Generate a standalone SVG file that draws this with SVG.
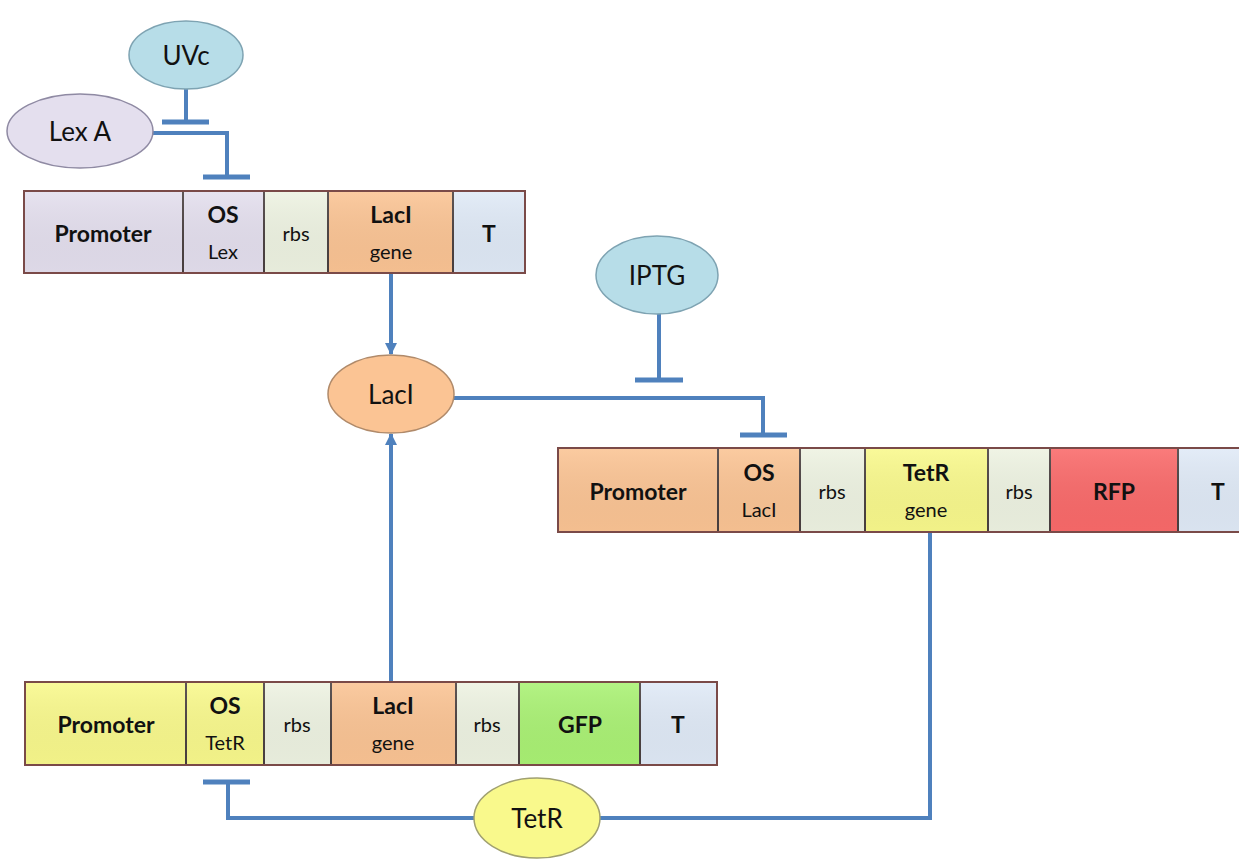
<svg xmlns="http://www.w3.org/2000/svg" width="1239" height="859" viewBox="0 0 1239 859">
  <style>
    .cell { stroke: #4a4040; stroke-width: 2; }
    .strip { fill: none; stroke: #7a4a48; stroke-width: 2; }
    .b { font-family: Lato, "Liberation Sans", sans-serif; font-weight: bold; font-size: 23px; fill: #111; text-anchor: middle; dominant-baseline: central; }
    .r { font-family: Lato, "Liberation Sans", sans-serif; font-size: 20px; fill: #111; text-anchor: middle; dominant-baseline: central; }
    .el { font-family: Lato, "Liberation Sans", sans-serif; font-size: 26px; fill: #111; text-anchor: middle; dominant-baseline: central; }
    .link { fill: none; stroke: #4f81bd; stroke-width: 4; }
    .bar { stroke: #4f81bd; stroke-width: 5; }
    .lav { fill: #e4dfee; }
    .rbs { fill: #eef3e2; }
    .lac { fill: #fbc494; }
    .term { fill: #e0eaf7; }
    .yel { fill: #f9f98c; }
    .rfp { fill: #fa6a6a; }
    .gfp { fill: #aaf274; }
    .sig { fill: #b7dde8; stroke: #7ea3b2; stroke-width: 1.5; }
  </style>
  <defs>
    <marker id="arrow" viewBox="0 0 12 12" refX="11" refY="6" markerWidth="12" markerHeight="12" markerUnits="userSpaceOnUse" orient="auto">
      <path d="M0,0 L12,6 L0,12 z" fill="#4f81bd"/>
    </marker>
    <linearGradient id="shade" x1="0" y1="0" x2="0" y2="1">
      <stop offset="0" stop-color="#fff" stop-opacity="0.12"/>
      <stop offset="1" stop-color="#000" stop-opacity="0.03"/>
    </linearGradient>
  </defs>

  <!-- regulatory connectors -->
  <g id="connectors">
    <!-- UVc blocks LexA -->
    <line class="link" x1="186" y1="89" x2="186" y2="122"/>
    <line class="bar" x1="162" y1="122" x2="209" y2="122"/>
    <!-- LexA represses OS Lex -->
    <polyline class="link" points="153,133 227,133 227,177"/>
    <line class="bar" x1="203" y1="177" x2="250" y2="177"/>
    <!-- LacI gene produces LacI -->
    <line class="link" x1="391" y1="273" x2="391" y2="354" marker-end="url(#arrow)"/>
    <line class="link" x1="391" y1="682" x2="391" y2="434" marker-end="url(#arrow)"/>
    <!-- IPTG blocks LacI -->
    <line class="link" x1="659" y1="313" x2="659" y2="380"/>
    <line class="bar" x1="635" y1="380" x2="683" y2="380"/>
    <!-- LacI represses OS LacI -->
    <polyline class="link" points="454,398 763,398 763,435"/>
    <line class="bar" x1="740" y1="435" x2="787" y2="435"/>
    <!-- TetR gene to TetR, repressing OS TetR -->
    <polyline class="link" points="930,532 930,818 600,818"/>
    <polyline class="link" points="474,818 228,818 228,782"/>
    <line class="bar" x1="203" y1="782" x2="250" y2="782"/>
  </g>

  <!-- signal molecules and proteins -->
  <g id="uvc">
    <ellipse class="sig" cx="186" cy="55" rx="57" ry="34"/>
    <text class="el" x="186" y="55">UVc</text>
  </g>
  <g id="lexa">
    <ellipse cx="80" cy="131" rx="73" ry="37" fill="#e4dfee" stroke="#8f8aa3" stroke-width="1.5"/>
    <text class="el" x="80" y="131">Lex A</text>
  </g>
  <g id="laci">
    <ellipse cx="391" cy="394" rx="63" ry="39" fill="#fbc494" stroke="#b08a6a" stroke-width="1.5"/>
    <text class="el" x="391" y="394">LacI</text>
  </g>
  <g id="iptg">
    <ellipse class="sig" cx="657" cy="275" rx="61" ry="39"/>
    <text class="el" x="657" y="275">IPTG</text>
  </g>
  <g id="tetr">
    <ellipse cx="537" cy="818" rx="63" ry="40" fill="#f9f98c" stroke="#a0a070" stroke-width="1.5"/>
    <text class="el" x="537" y="818">TetR</text>
  </g>

  <!-- construct 1: LexA-repressed LacI -->
  <g id="construct1">
    <rect class="cell lav" x="24" y="191" width="159" height="82"/>
    <rect class="cell lav" x="183" y="191" width="81" height="82"/>
    <rect class="cell rbs" x="264" y="191" width="64" height="82"/>
    <rect class="cell lac" x="328" y="191" width="125" height="82"/>
    <rect class="cell term" x="453" y="191" width="72" height="82"/>
    <rect x="24" y="191" width="501" height="82" fill="url(#shade)"/>
    <rect class="strip" x="24" y="191" width="501" height="82"/>
    <text class="b" x="103" y="233">Promoter</text>
    <text class="b" x="223" y="214">OS</text>
    <text class="r" x="223" y="251">Lex</text>
    <text class="r" x="296" y="233">rbs</text>
    <text class="b" x="391" y="214">LacI</text>
    <text class="r" x="391" y="251">gene</text>
    <text class="b" x="489" y="233">T</text>
  </g>

  <!-- construct 2: LacI-repressed TetR + RFP -->
  <g id="construct2">
    <rect class="cell lac" x="558" y="448" width="160" height="84"/>
    <rect class="cell lac" x="718" y="448" width="82" height="84"/>
    <rect class="cell rbs" x="800" y="448" width="65" height="84"/>
    <rect class="cell yel" x="865" y="448" width="123" height="84"/>
    <rect class="cell rbs" x="988" y="448" width="62" height="84"/>
    <rect class="cell rfp" x="1050" y="448" width="128" height="84"/>
    <rect class="cell term" x="1178" y="448" width="64" height="84"/>
    <rect x="558" y="448" width="684" height="84" fill="url(#shade)"/>
    <rect class="strip" x="558" y="448" width="684" height="84"/>
    <text class="b" x="638" y="491">Promoter</text>
    <text class="b" x="759" y="472">OS</text>
    <text class="r" x="759" y="509">LacI</text>
    <text class="r" x="832" y="491">rbs</text>
    <text class="b" x="926" y="472">TetR</text>
    <text class="r" x="926" y="509">gene</text>
    <text class="r" x="1019" y="491">rbs</text>
    <text class="b" x="1114" y="491">RFP</text>
    <text class="b" x="1218" y="491">T</text>
  </g>

  <!-- construct 3: TetR-repressed LacI + GFP -->
  <g id="construct3">
    <rect class="cell yel" x="25" y="682" width="161" height="83"/>
    <rect class="cell yel" x="186" y="682" width="78" height="83"/>
    <rect class="cell rbs" x="264" y="682" width="67" height="83"/>
    <rect class="cell lac" x="331" y="682" width="125" height="83"/>
    <rect class="cell rbs" x="456" y="682" width="63" height="83"/>
    <rect class="cell gfp" x="519" y="682" width="121" height="83"/>
    <rect class="cell term" x="640" y="682" width="77" height="83"/>
    <rect x="25" y="682" width="692" height="83" fill="url(#shade)"/>
    <rect class="strip" x="25" y="682" width="692" height="83"/>
    <text class="b" x="106" y="724">Promoter</text>
    <text class="b" x="225" y="705">OS</text>
    <text class="r" x="225" y="742">TetR</text>
    <text class="r" x="297" y="724">rbs</text>
    <text class="b" x="393" y="705">LacI</text>
    <text class="r" x="393" y="742">gene</text>
    <text class="r" x="487" y="724">rbs</text>
    <text class="b" x="580" y="724">GFP</text>
    <text class="b" x="678" y="724">T</text>
  </g>
</svg>
